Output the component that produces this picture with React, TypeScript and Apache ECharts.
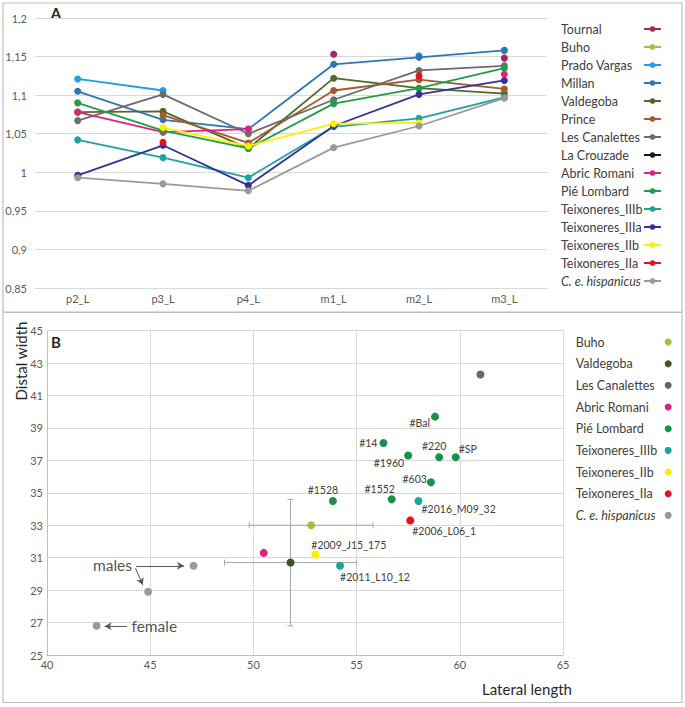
import React, { useEffect, useRef } from "react";
import * as echarts from "echarts";

const FONT = "Lato, 'Liberation Sans', sans-serif";

// ---------- Panel A data ----------
const categoriesA = ["p2_L", "p3_L", "p4_L", "m1_L", "m2_L", "m3_L"];
const yTicksA = { min: 0.85, max: 1.2, step: 0.05 };

const tournalA = [null, null, null, 1.153, null, 1.148];
const buhoA = [null, null, null, null, null, 1.158];
const pradoVargasA = [1.121, 1.106, null, null, 1.151, null];
const millanA = [1.105, 1.068, 1.056, 1.14, 1.149, 1.158];
const valdegobaA = [1.078, 1.079, 1.031, 1.122, 1.109, 1.102];
const princeA = [null, 1.074, 1.038, 1.106, 1.12, 1.108];
const lesCanalettesA = [1.067, 1.101, 1.05, 1.094, 1.132, 1.138];
const laCrouzadeA = [null, null, null, null, null, null];
const abricRomaniA = [1.078, 1.052, 1.056, null, null, 1.127];
const pieLombardA = [1.09, 1.054, 1.031, 1.089, 1.109, 1.135];
const teixIIIbA = [1.042, 1.019, 0.993, 1.059, 1.07, 1.097];
const teixIIIaA = [0.996, 1.035, 0.983, 1.06, 1.101, 1.119];
const teixIIbA = [null, 1.058, 1.034, 1.063, 1.064, null];
const teixIIaA = [null, 1.039, null, null, 1.125, null];
const hispanicusA = [0.993, 0.985, 0.976, 1.032, 1.06, 1.096];

// ---------- Panel B data ----------
const xTicksB = { min: 40, max: 65, step: 5 };
const yTicksB = { min: 25, max: 45, step: 2 };

const buhoB = [[52.8, 33.0]];
const valdegobaB = [[51.8, 30.7]];
const lesCanalettesB = [[61.0, 42.3]];
const abricRomaniB = [[50.5, 31.3]];
const pieLombardB = [
  [58.8, 39.7],
  [56.3, 38.07],
  [57.5, 37.3],
  [59.0, 37.2],
  [59.8, 37.2],
  [58.6, 35.65],
  [56.7, 34.6],
  [53.85, 34.5],
];
const pieLombardLabels = ["#Bal", "#14", "#1960", "#220", "#SP", "#603", "#1552", "#1528"];
const teixIIIbB = [
  [58.0, 34.5],
  [54.2, 30.5],
];
const teixIIIbLabels = ["#2016_M09_32", "#2011_L10_12"];
const teixIIbB = [[53.0, 31.2]];
const teixIIbLabels = ["#2009_J15_175"];
const teixIIaB = [[57.6, 33.3]];
const teixIIaLabels = ["#2006_L06_1"];
const hispanicusB = [
  [47.1, 30.5],
  [44.9, 28.9],
  [42.4, 26.8],
];
// error bars: [x, y, xLow, xHigh, yLow, yHigh]
const errorBarsB = [
  [52.8, 33.0, 49.8, 55.8, null, null],
  [51.8, 30.7, 48.6, 55.0, 26.8, 34.6],
];
// annotation texts and arrows (data coordinates)
const noteTexts = [
  { name: "males", at: [43.17, 30.55] },
  { name: "female", at: [45.2, 26.8] },
];
const noteArrows = [
  [[44.32, 30.5], [46.64, 30.5]],
  [[44.29, 30.35], [44.64, 29.32]],
  [[43.87, 26.77], [42.79, 26.77]],
];

// ---------- styles ----------
const COLORS: Record<string, string> = {
  Tournal: "#A0285F",
  Buho: "#9AC43C",
  "Prado Vargas": "#1EA0E0",
  Millan: "#2E75B6",
  Valdegoba: "#4E6B2A",
  Prince: "#A8582A",
  "Les Canalettes": "#6B6B6B",
  "La Crouzade": "#1A1A1A",
  "Abric Romani": "#E2217F",
  "Pié Lombard": "#1F9E4A",
  Teixoneres_IIIb: "#1FA39B",
  Teixoneres_IIIa: "#34319A",
  Teixoneres_IIb: "#FFEE00",
  Teixoneres_IIa: "#E8121B",
  "C. e. hispanicus": "#9A9A9A",
};
const COLORS_B: Record<string, string> = {
  Buho: "#9AC43C",
  Valdegoba: "#385723",
  "Les Canalettes": "#666666",
  "Abric Romani": "#E2217F",
  "Pié Lombard": "#16924A",
  Teixoneres_IIIb: "#1FA39B",
  Teixoneres_IIb: "#FFEE00",
  Teixoneres_IIa: "#E8121B",
  "C. e. hispanicus": "#9A9A9A",
};

const labelLayout: Record<string, any> = {
  "#Bal": { position: "left", distance: 1, offset: [0, 6] },
  "#14": { position: "left", distance: 2, offset: [0, 0] },
  "#1960": { position: "left", distance: 0, offset: [0, 7] },
  "#220": { position: "top", distance: 2, offset: [-5, 0] },
  "#SP": { position: "right", distance: 0, offset: [-1, -8] },
  "#603": { position: "left", distance: 0, offset: [0, -3] },
  "#1552": { position: "top", distance: 1, offset: [-12, 0] },
  "#1528": { position: "top", distance: 1, offset: [-10, 0] },
  "#2016_M09_32": { position: "right", distance: 0, offset: [-1, 8] },
  "#2011_L10_12": { position: "right", distance: 0, offset: [-4, 11] },
  "#2009_J15_175": { position: "right", distance: 0, offset: [-8, -9] },
  "#2006_L06_1": { position: "right", distance: 0, offset: [-2, 11] },
};

const seriesA: [string, (number | null)[]][] = [
  ["Tournal", tournalA],
  ["Buho", buhoA],
  ["Prado Vargas", pradoVargasA],
  ["Millan", millanA],
  ["Valdegoba", valdegobaA],
  ["Prince", princeA],
  ["Les Canalettes", lesCanalettesA],
  ["La Crouzade", laCrouzadeA],
  ["Abric Romani", abricRomaniA],
  ["Pié Lombard", pieLombardA],
  ["Teixoneres_IIIb", teixIIIbA],
  ["Teixoneres_IIIa", teixIIIaA],
  ["Teixoneres_IIb", teixIIbA],
  ["Teixoneres_IIa", teixIIaA],
  ["C. e. hispanicus", hispanicusA],
];

const seriesB: [string, number[][], string[] | null][] = [
  ["Buho", buhoB, null],
  ["Valdegoba", valdegobaB, null],
  ["Les Canalettes", lesCanalettesB, null],
  ["Abric Romani", abricRomaniB, null],
  ["Pié Lombard", pieLombardB, pieLombardLabels],
  ["Teixoneres_IIIb", teixIIIbB, teixIIIbLabels],
  ["Teixoneres_IIb", teixIIbB, teixIIbLabels],
  ["Teixoneres_IIa", teixIIaB, teixIIaLabels],
  ["C. e. hispanicus", hispanicusB, null],
];

const legendFormatter = (name: string) =>
  name === "C. e. hispanicus" ? `{it|${name}}` : `{n|${name}}`;

const TXT = "#404040";
const AXT = "#595959";
const GRID = "#D9D9D9";
const BORDER = "#BFBFBF";

function legendText(width: number) {
  return {
    fontFamily: FONT,
    fontSize: 12.5,
    color: TXT,
    lineHeight: 14,
    rich: {
      n: { width, align: "left", fontSize: 12.5, lineHeight: 14, color: TXT, fontFamily: FONT },
      it: {
        width,
        align: "left",
        fontStyle: "italic",
        fontSize: 12.5,
        lineHeight: 14,
        color: TXT,
        fontFamily: FONT,
      },
    },
  };
}

function optionA(): any {
  return {
    animation: false,
    textStyle: { fontFamily: FONT },
    graphic: [
      {
        type: "rect",
        shape: { x: 3, y: 3, width: 679, height: 309 },
        style: { fill: "none", stroke: BORDER, lineWidth: 1.2 },
        silent: true,
      },
      {
        type: "text",
        x: 56,
        y: 13,
        style: {
          text: "A",
          font: `bold 15px ${FONT}`,
          fill: "#262626",
          textAlign: "center",
          textVerticalAlign: "middle",
        },
      },
    ],
    grid: { left: 35, right: 138, top: 18, bottom: 24 },
    legend: {
      orient: "vertical",
      left: 556,
      top: 17,
      align: "right",
      itemWidth: 17,
      itemHeight: 7,
      itemGap: 4,
      formatter: legendFormatter,
      data: seriesA.map((s) => s[0]),
      textStyle: legendText(78),
    },
    xAxis: {
      type: "category",
      data: categoriesA,
      boundaryGap: true,
      axisLine: { lineStyle: { color: GRID } },
      axisTick: { show: false },
      axisLabel: { color: AXT, fontSize: 11, margin: 5, fontFamily: FONT },
    },
    yAxis: {
      type: "value",
      min: yTicksA.min,
      max: yTicksA.max,
      interval: yTicksA.step,
      axisLine: { show: false },
      axisTick: { show: false },
      splitLine: { lineStyle: { color: GRID } },
      axisLabel: {
        color: AXT,
        fontSize: 11,
        margin: 8,
        fontFamily: FONT,
        formatter: (v: number) => String(parseFloat(v.toFixed(2))).replace(".", ","),
      },
    },
    series: seriesA.map(([name, data]) => ({
      name,
      type: "line",
      data,
      connectNulls: false,
      symbol: "circle",
      symbolSize: 7,
      color: COLORS[name],
      lineStyle: { width: 1.8, color: COLORS[name] },
      itemStyle: { color: COLORS[name] },
    })),
  };
}

function optionB(): any {
  const scatterSeries = seriesB.map(([name, pts, labels]) => ({
    name,
    type: "scatter",
    symbol: "circle",
    symbolSize: 8,
    color: COLORS_B[name],
    itemStyle: { color: COLORS_B[name], opacity: 1 },
    z: 5,
    data: pts.map((p, i) => {
      const lab = labels ? labels[i] : null;
      const item: any = { value: p, name: lab || name };
      if (lab) {
        const l = labelLayout[lab] || { position: "right" };
        item.label = {
          show: true,
          formatter: lab,
          position: l.position,
          distance: l.distance,
          offset: l.offset,
          fontSize: 10.5,
          color: TXT,
          fontFamily: FONT,
        };
      }
      return item;
    }),
    ...(name === "C. e. hispanicus"
      ? {
          markLine: {
            silent: true,
            symbol: ["none", "arrow"],
            symbolSize: [6, 7],
            label: { show: false },
            lineStyle: { color: "#595959", type: "solid", width: 1 },
            data: noteArrows.map(([a, b]) => [{ coord: a }, { coord: b }]),
          },
        }
      : {}),
  }));

  return {
    animation: false,
    textStyle: { fontFamily: FONT },
    graphic: [
      {
        type: "rect",
        shape: { x: 3, y: 0.5, width: 679, height: 390 },
        style: { fill: "none", stroke: BORDER, lineWidth: 1.2 },
        silent: true,
      },
      {
        type: "text",
        x: 56,
        y: 30,
        style: {
          text: "B",
          font: `bold 15px ${FONT}`,
          fill: "#262626",
          textAlign: "center",
          textVerticalAlign: "middle",
        },
      },
      {
        type: "text",
        x: 21,
        y: 49,
        rotation: Math.PI / 2,
        style: {
          text: "Distal width",
          font: `15px ${FONT}`,
          fill: "#262626",
          textAlign: "center",
          textVerticalAlign: "middle",
        },
      },
      {
        type: "text",
        x: 527,
        y: 377,
        style: {
          text: "Lateral length",
          font: `15px ${FONT}`,
          fill: "#262626",
          textAlign: "center",
          textVerticalAlign: "middle",
        },
      },
    ],
    grid: { left: 47, right: 122, top: 18.7, bottom: 52 },
    legend: {
      orient: "vertical",
      left: 570.7,
      top: 18,
      align: "right",
      icon: "circle",
      itemWidth: 7,
      itemHeight: 7,
      itemGap: 7.67,
      formatter: legendFormatter,
      data: seriesB.map((s) => s[0]),
      textStyle: legendText(84),
    },
    xAxis: {
      type: "value",
      min: xTicksB.min,
      max: xTicksB.max,
      interval: xTicksB.step,
      axisLine: { show: true, onZero: false, lineStyle: { color: BORDER } },
      axisTick: { show: false },
      splitLine: { show: true, lineStyle: { color: GRID } },
      axisLabel: { color: AXT, fontSize: 11, margin: 4, fontFamily: FONT },
    },
    yAxis: {
      type: "value",
      min: yTicksB.min,
      max: yTicksB.max,
      interval: yTicksB.step,
      axisLine: { show: true, onZero: false, lineStyle: { color: BORDER } },
      axisTick: { show: false },
      splitLine: { show: true, lineStyle: { color: GRID } },
      axisLabel: { color: AXT, fontSize: 11, margin: 4, fontFamily: FONT },
    },
    series: [
      {
        name: "errorbars",
        type: "custom",
        z: 2,
        silent: true,
        encode: { x: [0, 2, 3], y: [1, 4, 5] },
        data: errorBarsB.map((r) => r.map((v) => (v == null ? "-" : v))),
        renderItem: (params: any, api: any) => {
          const x = api.value(0);
          const y = api.value(1);
          const xl = api.value(2);
          const xh = api.value(3);
          const yl = api.value(4);
          const yh = api.value(5);
          const style = { stroke: "#A6A6A6", lineWidth: 1 };
          const cap = 3;
          const children: any[] = [];
          const ok = (v: any) => v != null && !isNaN(v) && v !== "-";
          if (ok(xl) && ok(xh)) {
            const p1 = api.coord([xl, y]);
            const p2 = api.coord([xh, y]);
            children.push({ type: "line", shape: { x1: p1[0], y1: p1[1], x2: p2[0], y2: p2[1] }, style });
            children.push({ type: "line", shape: { x1: p1[0], y1: p1[1] - cap, x2: p1[0], y2: p1[1] + cap }, style });
            children.push({ type: "line", shape: { x1: p2[0], y1: p2[1] - cap, x2: p2[0], y2: p2[1] + cap }, style });
          }
          if (ok(yl) && ok(yh)) {
            const p1 = api.coord([x, yl]);
            const p2 = api.coord([x, yh]);
            children.push({ type: "line", shape: { x1: p1[0], y1: p1[1], x2: p2[0], y2: p2[1] }, style });
            children.push({ type: "line", shape: { x1: p1[0] - cap, y1: p1[1], x2: p1[0] + cap, y2: p1[1] }, style });
            children.push({ type: "line", shape: { x1: p2[0] - cap, y1: p2[1], x2: p2[0] + cap, y2: p2[1] }, style });
          }
          return { type: "group", children };
        },
      },
      ...scatterSeries,
      {
        name: "notes",
        type: "scatter",
        silent: true,
        symbolSize: 0,
        z: 6,
        data: noteTexts.map((n) => ({ value: n.at, name: n.name })),
        label: {
          show: true,
          position: "inside",
          formatter: (p: any) => p.name,
          fontSize: 15.5,
          color: "#262626",
          fontFamily: FONT,
        },
      },
    ],
  };
}

function Chart({ option, style }: { option: any; style: React.CSSProperties }) {
  const ref = useRef<HTMLDivElement>(null);
  useEffect(() => {
    if (!ref.current) return;
    const chart = echarts.init(ref.current, undefined, { renderer: "svg" });
    chart.setOption(option);
    return () => chart.dispose();
  }, []);
  return <div ref={ref} style={style} />;
}

export default function App() {
  return (
    <div
      style={{
        position: "fixed",
        left: 0,
        top: 0,
        width: 685,
        height: 707,
        background: "#ffffff",
      }}
    >
      <Chart option={optionA()} style={{ position: "absolute", left: 0, top: 0, width: 685, height: 312 }} />
      <Chart option={optionB()} style={{ position: "absolute", left: 0, top: 312, width: 685, height: 395 }} />
    </div>
  );
}
